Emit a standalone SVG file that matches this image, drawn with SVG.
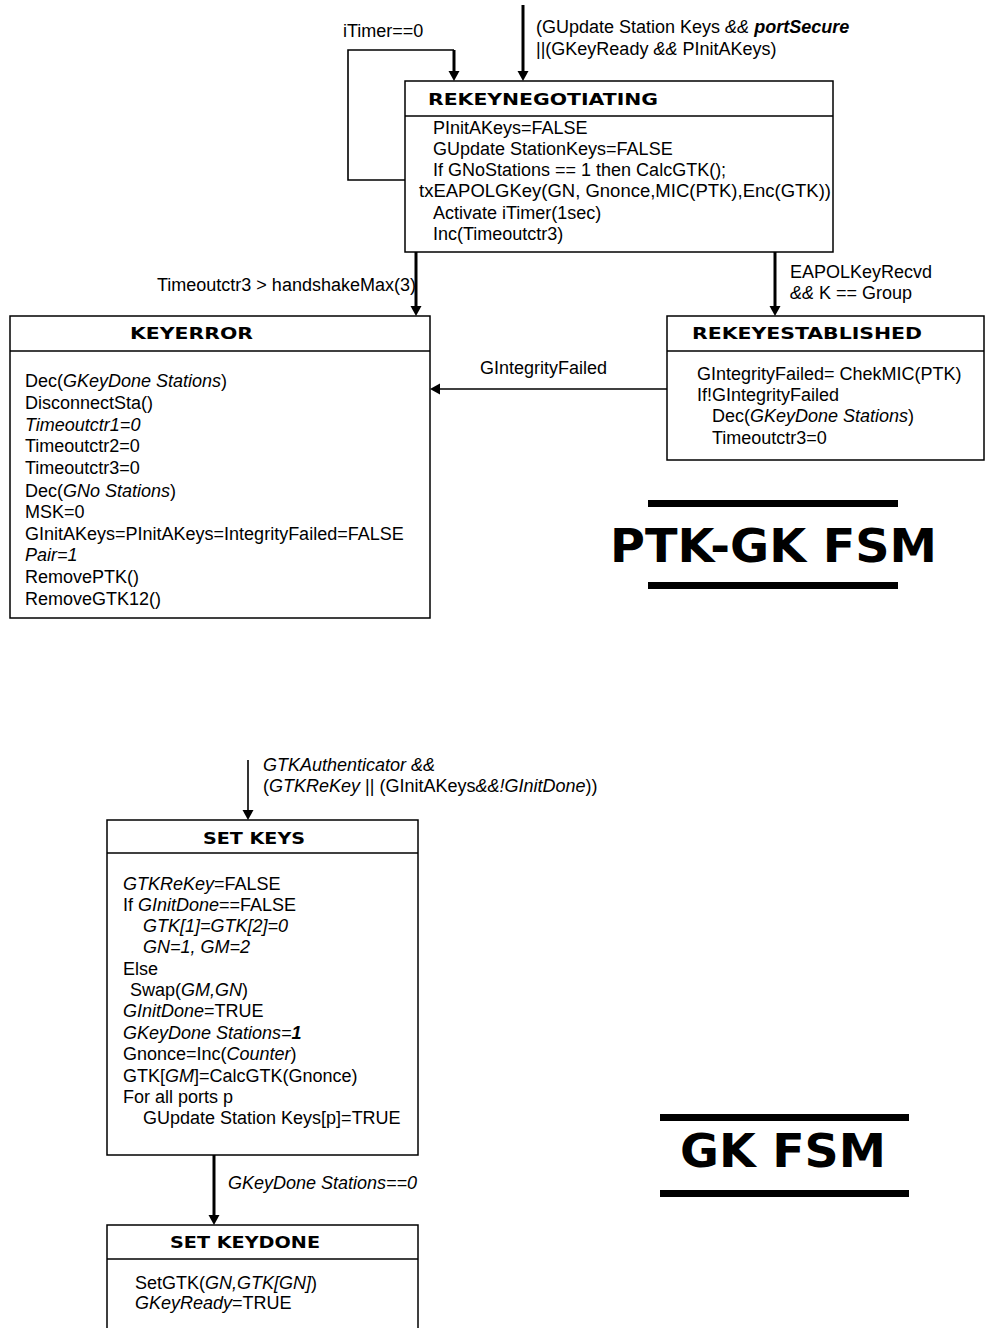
<svg xmlns="http://www.w3.org/2000/svg" width="985" height="1328" viewBox="0 0 985 1328">
<defs>
<style>
.t{font-family:"Liberation Sans",Arial,sans-serif;font-size:18px;fill:#000}
.i{font-style:italic}
.b{font-weight:bold}
.h{font-family:"DejaVu Sans",sans-serif;font-weight:bold;font-size:15px;fill:#000}
.big{font-family:"DejaVu Sans",sans-serif;font-weight:bold;font-size:46px;fill:#000}
.box{fill:#fff;stroke:#000;stroke-width:1.5}
.div{stroke:#000;stroke-width:1.5}
.thick{fill:none;stroke:#000;stroke-width:3}
.thin{fill:none;stroke:#000;stroke-width:1.6}
.bar{fill:#000}
</style>
<marker id="ah" markerUnits="userSpaceOnUse" markerWidth="12" markerHeight="12" refX="6" refY="6" orient="auto">
<path d="M0,0.5 L10,6 L0,11.5 z" fill="#000"/>
</marker>
</defs>
<rect width="985" height="1328" fill="#fff"/>

<g id="connectors">
<path class="thin" d="M405,180 H348 V50 H454"/>
<path class="thick" d="M454,50 V77" marker-end="url(#ah)"/>
<path class="thick" d="M523,5 V77" marker-end="url(#ah)"/>
<path class="thick" d="M416,252 V312" marker-end="url(#ah)"/>
<path class="thick" d="M775,252 V312" marker-end="url(#ah)"/>
<path class="thin" d="M667,389 H434" marker-end="url(#ah)"/>
<path class="thin" d="M248,760 V816" marker-end="url(#ah)"/>
<path class="thick" d="M214,1155 V1221" marker-end="url(#ah)"/>
<text class="t" x="343" y="37">iTimer==0</text>
<text class="t" x="536" y="33">(GUpdate Station Keys <tspan class="i">&amp;&amp;</tspan> <tspan class="i b">portSecure</tspan></text>
<text class="t" x="536" y="55">||(GKeyReady <tspan class="i">&amp;&amp;</tspan> PInitAKeys)</text>
<text class="t" x="157" y="291">Timeoutctr3 &gt; handshakeMax(3)</text>
<text class="t" x="790" y="278">EAPOLKeyRecvd</text>
<text class="t" x="790" y="299"><tspan class="i">&amp;&amp;</tspan> K == Group</text>
<text class="t" x="480" y="374">GIntegrityFailed</text>
<text class="t i" x="263" y="771">GTKAuthenticator &amp;&amp;</text>
<text class="t" x="263" y="792">(<tspan class="i">GTKReKey</tspan> || (GInitAKeys<tspan class="i">&amp;&amp;!GInitDone</tspan>))</text>
<text class="t i" x="228" y="1189">GKeyDone Stations==0</text>
</g>

<g id="rekeynegotiating">
<rect class="box" x="405" y="81" width="428" height="171"/>
<line class="div" x1="405" y1="116" x2="833" y2="116"/>
<text class="h" x="428" y="105" textLength="230" lengthAdjust="spacingAndGlyphs">REKEYNEGOTIATING</text>
<text class="t" x="433" y="134">PInitAKeys=FALSE</text>
<text class="t" x="433" y="155">GUpdate StationKeys=FALSE</text>
<text class="t" x="433" y="176">If GNoStations == 1 then CalcGTK();</text>
<text class="t" x="419" y="197" textLength="412" lengthAdjust="spacingAndGlyphs">txEAPOLGKey(GN, Gnonce,MIC(PTK),Enc(GTK))</text>
<text class="t" x="433" y="219">Activate iTimer(1sec)</text>
<text class="t" x="433" y="240">Inc(Timeoutctr3)</text>
</g>

<g id="keyerror">
<rect class="box" x="10" y="316" width="420" height="302"/>
<line class="div" x1="10" y1="351" x2="430" y2="351"/>
<text class="h" x="130" y="339" textLength="123" lengthAdjust="spacingAndGlyphs">KEYERROR</text>
<text class="t" x="25" y="387">Dec(<tspan class="i">GKeyDone Stations</tspan>)</text>
<text class="t" x="25" y="409">DisconnectSta()</text>
<text class="t i" x="25" y="431">Timeoutctr1=0</text>
<text class="t" x="25" y="452">Timeoutctr2=0</text>
<text class="t" x="25" y="474">Timeoutctr3=0</text>
<text class="t" x="25" y="497">Dec(<tspan class="i">GNo Stations</tspan>)</text>
<text class="t" x="25" y="518">MSK=0</text>
<text class="t" x="25" y="540">GInitAKeys=PInitAKeys=IntegrityFailed=FALSE</text>
<text class="t i" x="25" y="561">Pair=1</text>
<text class="t" x="25" y="583">RemovePTK()</text>
<text class="t" x="25" y="605">RemoveGTK12()</text>
</g>

<g id="rekeyestablished">
<rect class="box" x="667" y="316" width="317" height="144"/>
<line class="div" x1="667" y1="351" x2="984" y2="351"/>
<text class="h" x="692" y="339" textLength="230" lengthAdjust="spacingAndGlyphs">REKEYESTABLISHED</text>
<text class="t" x="697" y="380">GIntegrityFailed= ChekMIC(PTK)</text>
<text class="t" x="697" y="401">If!GIntegrityFailed</text>
<text class="t" x="712" y="422">Dec(<tspan class="i">GKeyDone Stations</tspan>)</text>
<text class="t" x="712" y="444">Timeoutctr3=0</text>
</g>

<g id="ptk-gk-fsm">
<rect class="bar" x="648" y="500" width="250" height="7"/>
<rect class="bar" x="648" y="582" width="250" height="7"/>
<text class="big" x="610" y="562" textLength="327" lengthAdjust="spacingAndGlyphs">PTK-GK FSM</text>
</g>

<g id="setkeys">
<rect class="box" x="107" y="820" width="311" height="335"/>
<line class="div" x1="107" y1="853" x2="418" y2="853"/>
<text class="h" x="203" y="844" textLength="102" lengthAdjust="spacingAndGlyphs">SET KEYS</text>
<text class="t" x="123" y="890"><tspan class="i">GTKReKey</tspan>=FALSE</text>
<text class="t" x="123" y="911">If <tspan class="i">GInitDone</tspan>==FALSE</text>
<text class="t i" x="143" y="932">GTK[1]=GTK[2]=0</text>
<text class="t i" x="143" y="953">GN=1, GM=2</text>
<text class="t" x="123" y="975">Else</text>
<text class="t" x="130" y="996">Swap(<tspan class="i">GM,GN</tspan>)</text>
<text class="t" x="123" y="1017"><tspan class="i">GInitDone</tspan>=TRUE</text>
<text class="t i" x="123" y="1039">GKeyDone Stations=<tspan class="b">1</tspan></text>
<text class="t" x="123" y="1060">Gnonce=Inc(<tspan class="i">Counter</tspan>)</text>
<text class="t" x="123" y="1082">GTK[<tspan class="i">GM</tspan>]=CalcGTK(Gnonce)</text>
<text class="t" x="123" y="1103">For all ports p</text>
<text class="t" x="143" y="1124">GUpdate Station Keys[p]=TRUE</text>
</g>

<g id="setkeydone">
<rect class="box" x="107" y="1225" width="311" height="110"/>
<line class="div" x1="107" y1="1259" x2="418" y2="1259"/>
<text class="h" x="170" y="1248" textLength="150" lengthAdjust="spacingAndGlyphs">SET KEYDONE</text>
<text class="t" x="135" y="1289">SetGTK(<tspan class="i">GN,GTK[GN]</tspan>)</text>
<text class="t" x="135" y="1309"><tspan class="i">GKeyReady</tspan>=TRUE</text>
</g>

<g id="gk-fsm">
<rect class="bar" x="660" y="1114" width="249" height="7"/>
<rect class="bar" x="660" y="1190" width="249" height="7"/>
<text class="big" x="680" y="1167" textLength="206" lengthAdjust="spacingAndGlyphs">GK FSM</text>
</g>
</svg>
